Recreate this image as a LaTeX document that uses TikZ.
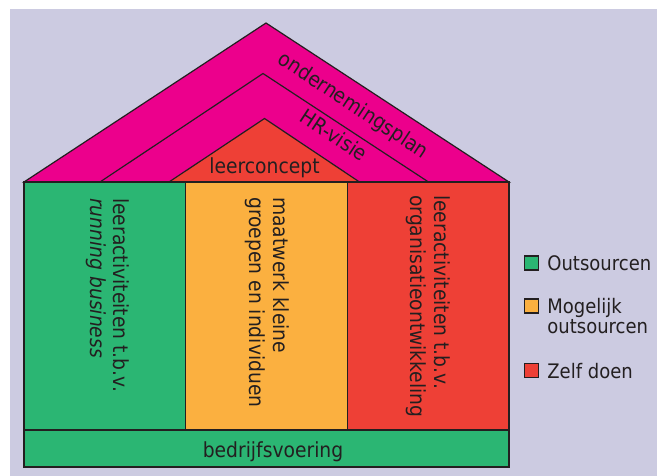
\documentclass[tikz,border=0pt]{standalone}
\usepackage{fontspec}
\setmainfont{DejaVu Sans}[FakeStretch=0.9]
\usetikzlibrary{positioning}
\definecolor{bgLavender}{HTML}{CCCBE1}
\definecolor{roofMagenta}{HTML}{EC008C}
\definecolor{selfRed}{HTML}{EE4036}
\definecolor{outGreen}{HTML}{2BB673}
\definecolor{maybeOrange}{HTML}{FBB040}
\definecolor{inkDark}{HTML}{231F20}
\newcommand{\labelFont}{\fontsize{20.8}{23.5}\selectfont}
\newcommand{\keyFont}{\fontsize{20}{20}\selectfont}

\begin{document}
\begin{tikzpicture}[x=1pt,y=-1pt,%%
  lineStyle/.style={draw=inkDark,line width=1.2pt,line join=miter},%%
  labelStyle/.style={text=inkDark,inner sep=0pt,font=\labelFont},%%
  columnStyle/.style={labelStyle,rotate=-90,anchor=west,align=left},%%
  keyStyle/.style={lineStyle,minimum size=14pt,inner sep=0pt,anchor=north west},%%
  keyLabelStyle/.style={labelStyle,font=\keyFont,align=left}%%
]
%%
%%
\pgfmathsetmacro{\houseLeft}{24}
\pgfmathsetmacro{\houseRight}{509}
\pgfmathsetmacro{\eaveY}{182}
\pgfmathsetmacro{\colBottom}{430}
\pgfmathsetmacro{\baseBottom}{467}
\pgfmathsetmacro{\colW}{(\houseRight-\houseLeft)/3}
\pgfmathsetmacro{\keyX}{523.5}
%%
%% Page and background.
\useasboundingbox (0,0) rectangle (657,476);
\fill[white] (0,0) rectangle (657,476);
\fill[bgLavender] (10,9) rectangle (657,476);
%%
%% Coordinates for the three roofs.
\coordinate (outerApex) at (266,23);
\coordinate (midApex) at (263,73.5);
\coordinate (innerApex) at (264.5,118.5);
%%
%% Draw the roofs, outside in.
\filldraw[lineStyle,fill=roofMagenta] (\houseLeft,\eaveY) -- (outerApex) -- (\houseRight,\eaveY) -- cycle;
\filldraw[lineStyle,fill=roofMagenta] (100,\eaveY) -- (midApex) -- (428.5,\eaveY) -- cycle;
\filldraw[lineStyle,fill=selfRed] (169,\eaveY) -- (innerApex) -- (359.5,\eaveY) -- cycle;
%%
%% Draw the three columns and the base.
\filldraw[lineStyle,fill=outGreen] (\houseLeft,\eaveY) rectangle (\houseLeft+\colW,\colBottom);
\filldraw[lineStyle,fill=maybeOrange] (\houseLeft+\colW,\eaveY) rectangle (\houseLeft+2*\colW,\colBottom);
\filldraw[lineStyle,fill=selfRed] (\houseLeft+2*\colW,\eaveY) rectangle (\houseRight,\colBottom);
\filldraw[lineStyle,fill=outGreen] (\houseLeft,\colBottom) rectangle (\houseRight,\baseBottom);
%%
%% Label the roofs.
\node[labelStyle,rotate=-33.4] (planLabel) at (353,106) {ondernemingsplan};
\node[labelStyle,rotate=-33.4] (visionLabel) at (334,135) {HR-visie};
\node[labelStyle,anchor=base] (conceptLabel) at (264.5,173.3) {leerconcept};
%%
%% Label the columns, read from top to bottom.
\node[columnStyle] (runLabel) at (107.5,198) {leeractiviteiten t.b.v.\\\textit{running business}};
\node[columnStyle] (customLabel) at (267,197) {maatwerk kleine\\groepen en individuen};
\node[columnStyle] (orgLabel) at (428,195) {leeractiviteiten t.b.v.\\organisatieontwikkeling};
\node[labelStyle,anchor=base] (baseLabel) at (273,457) {bedrijfsvoering};
%%
%% The key.
\node[keyStyle,fill=outGreen] (keyGreen) at (\keyX,255.5) {};
\node[keyStyle,fill=maybeOrange] (keyOrange) at (\keyX,298.5) {};
\node[keyStyle,fill=selfRed] (keyRed) at (\keyX,363) {};
\node[keyLabelStyle,anchor=base west] (keyGreenText) at ([xshift=8.5pt]keyGreen.south east) {Outsourcen};
\node[keyLabelStyle,anchor=base west] (keyOrangeText) at ([xshift=8.5pt,yshift=-20pt]keyOrange.south east) {Mogelijk\\outsourcen};
\node[keyLabelStyle,anchor=base west] (keyRedText) at ([xshift=8.5pt]keyRed.south east) {Zelf doen};
\end{tikzpicture}
\end{document}
